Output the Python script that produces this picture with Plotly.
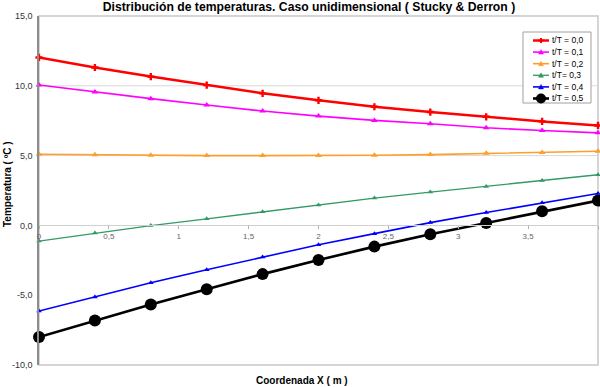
import plotly.graph_objects as go

# ---------------- data ----------------
x_pos = [0.0, 0.4, 0.8, 1.2, 1.6, 2.0, 2.4, 2.8, 3.2, 3.6, 4.0]
t00 = [12.03, 11.31, 10.66, 10.05, 9.46, 8.96, 8.50, 8.12, 7.78, 7.45, 7.16]
t01 = [10.06, 9.55, 9.08, 8.62, 8.19, 7.83, 7.52, 7.28, 6.99, 6.80, 6.63]
t02 = [5.10, 5.06, 5.02, 5.00, 5.00, 5.00, 5.02, 5.07, 5.16, 5.23, 5.31]
t03 = [-1.12, -0.54, -0.01, 0.47, 0.97, 1.47, 1.96, 2.39, 2.79, 3.22, 3.63]
t04 = [-6.13, -5.12, -4.11, -3.18, -2.27, -1.38, -0.59, 0.20, 0.92, 1.62, 2.29]
t05 = [-8.00, -6.82, -5.67, -4.57, -3.49, -2.48, -1.52, -0.63, 0.18, 1.02, 1.78]

series_names = ["t/T = 0,0", "t/T = 0,1", "t/T = 0,2", "t/T= 0,3", "t/T = 0,4", "t/T = 0,5"]
series_values = [t00, t01, t02, t03, t04, t05]

x_tick_vals = [0, 0.5, 1, 1.5, 2, 2.5, 3, 3.5, 4]
x_tick_text = ["0", "0,5", "1", "1,5", "2", "2,5", "3", "3,5", "4"]
y_tick_vals = [-10, -5, 0, 5, 10, 15]
y_tick_text = ["-10,0", "-5,0", "0,0", "5,0", "10,0", "15,0"]
y_grid_vals = [5, 10]

# ---------------- styles ----------------
colors = ["#FF0000", "#FF00FF", "#FF9E2C", "#339966", "#0000FF", "#000000"]
symbols = ["cross", "triangle-up", "triangle-up", "triangle-up", "triangle-up", "circle"]
msizes = [6, 6, 6, 5, 5, 12]
lwidths = [2.5, 1.6, 1.6, 1.3, 1.6, 2.6]

W, H = 600, 387
ML, MR, MT, MB = 39, 2, 16, 22
PW = W - ML - MR
PH = H - MT - MB
FONT = "Liberation Sans, Arial, sans-serif"


def px(xp):
    return (xp - ML) / PW


def py(yp):
    return (H - MB - yp) / PH


fig = go.Figure()
for name, vals, c, s, ms, lw in zip(series_names, series_values, colors, symbols, msizes, lwidths):
    fig.add_trace(go.Scatter(
        x=x_pos, y=vals, name=name, mode="lines+markers",
        line=dict(color=c, width=lw),
        marker=dict(symbol=s, size=ms, color=c, line=dict(width=0)),
        cliponaxis=False, showlegend=False,
    ))

shapes = []
# plot area frame
shapes.append(dict(type="rect", xref="paper", yref="paper", x0=0, x1=1, y0=0, y1=1,
                   line=dict(color="#C8C8C8", width=1.5), layer="below"))
# horizontal gridlines
for gv in y_grid_vals:
    shapes.append(dict(type="line", xref="paper", yref="y", x0=0, x1=1, y0=gv, y1=gv,
                       line=dict(color="#D9D9D9", width=1), layer="below"))

# ---------------- manual legend ----------------
LX0, LX1, LY0, LY1 = 523, 591, 32, 103
shapes.append(dict(type="rect", xref="paper", yref="paper",
                   x0=px(LX0), x1=px(LX1), y0=py(LY1), y1=py(LY0),
                   line=dict(color="#A0A0A0", width=1), fillcolor="white", layer="above"))
annotations = []
row0, rowstep = 40.5, 11.6
for i, (name, c, s, lw) in enumerate(zip(series_names, colors, symbols, lwidths)):
    yy = row0 + i * rowstep
    shapes.append(dict(type="line", xref="paper", yref="paper",
                       x0=px(533), x1=px(549), y0=py(yy), y1=py(yy),
                       line=dict(color=c, width=lw), layer="above"))
    xa, ya = px(541), py(yy)
    if s == "circle":
        shapes.append(dict(type="circle", xref="paper", yref="paper", xsizemode="pixel", ysizemode="pixel",
                           xanchor=xa, yanchor=ya, x0=-5, x1=5, y0=-5, y1=5,
                           fillcolor=c, line=dict(color=c, width=0), layer="above"))
    elif s == "cross":
        shapes.append(dict(type="path", xref="paper", yref="paper", xsizemode="pixel", ysizemode="pixel",
                           xanchor=xa, yanchor=ya, path="M-2.5,0 L2.5,0 M0,-2.5 L0,2.5",
                           line=dict(color=c, width=2), layer="above"))
    else:
        shapes.append(dict(type="path", xref="paper", yref="paper", xsizemode="pixel", ysizemode="pixel",
                           xanchor=xa, yanchor=ya, path="M-2.5,-2 L2.5,-2 L0,2.5 Z",
                           fillcolor=c, line=dict(color=c, width=0.5), layer="above"))
    annotations.append(dict(text=name, xref="paper", yref="paper", x=px(549.5), y=py(yy),
                            xanchor="left", yanchor="middle", showarrow=False,
                            font=dict(family=FONT, size=8.5, color="#000000")))

# axis titles
annotations.append(dict(text="<b>Coordenada X ( m )</b>", xref="paper", yref="paper",
                        x=px(302), y=py(381), xanchor="center", yanchor="middle", showarrow=False,
                        font=dict(family=FONT, size=10, color="#000000")))
annotations.append(dict(text="<b>Temperatura ( ºC )</b>", xref="paper", yref="paper",
                        x=px(7), y=py(184), xanchor="center", yanchor="middle", showarrow=False,
                        textangle=-90, font=dict(family=FONT, size=10, color="#000000")))

fig.update_layout(
    width=W, height=H,
    margin=dict(l=ML, r=MR, t=MT, b=MB, pad=0),
    paper_bgcolor="white", plot_bgcolor="white",
    title=dict(text="<b>Distribución de temperaturas. Caso unidimensional ( Stucky & Derron )</b>",
               x=309 / W, xanchor="center", y=1 - 6.5 / H, yanchor="middle", yref="container",
               font=dict(family=FONT, size=12.2, color="#000000")),
    xaxis=dict(range=[0, 4], tickvals=x_tick_vals, ticktext=x_tick_text,
               anchor="free", position=0.4, showline=True, linecolor="#D0D0D0", linewidth=1,
               ticks="outside", ticklen=3, tickcolor="#B0B0B0", showgrid=False, zeroline=False,
               tickfont=dict(family=FONT, size=8, color="#666666"), fixedrange=True),
    yaxis=dict(range=[-10, 15], tickvals=y_tick_vals, ticktext=y_tick_text,
               showline=True, linecolor="#8C8C8C", linewidth=1.5, ticks="", showgrid=False,
               zeroline=True, zerolinecolor="#E0E0E0", zerolinewidth=1, ticklabelstandoff=3,
               tickfont=dict(family=FONT, size=9, color="#333333"), fixedrange=True),
    shapes=shapes, annotations=annotations, showlegend=False,
)

fig.write_html("out.html")
